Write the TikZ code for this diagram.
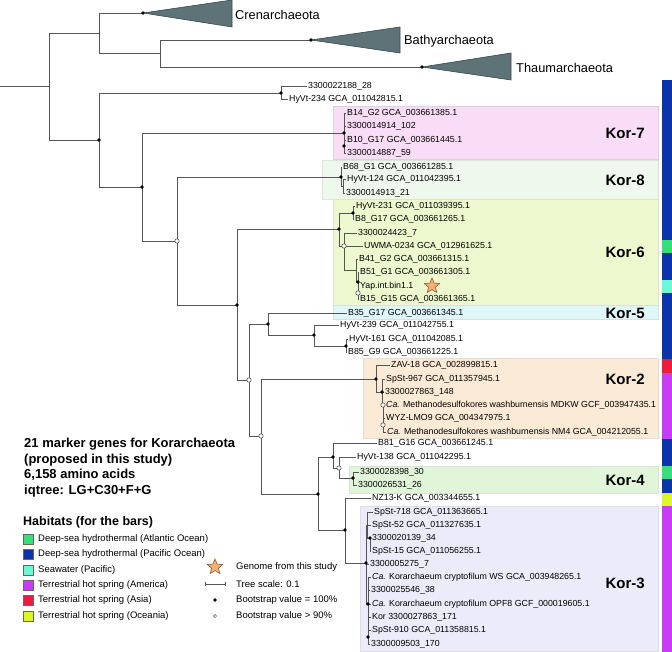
\documentclass[tikz,border=0pt]{standalone}
\usepackage{fontspec}
\setmainfont{Liberation Sans}
\usetikzlibrary{shapes.geometric,calc}
\newcommand\leaffont{\fontsize{8.8}{10}\selectfont}
\newcommand\legfont{\fontsize{9.5}{11}\selectfont}
\newcommand\cladefont{\fontsize{12.8}{14}\selectfont}
\newcommand\korfont{\fontsize{15}{17}\selectfont\bfseries}
\newcommand\titfont{\fontsize{13}{15}\selectfont\bfseries}
\newcommand\habfont{\fontsize{12.5}{14}\selectfont\bfseries}
\definecolor{brc}{HTML}{555555}
\definecolor{tric}{HTML}{5E7378}
\definecolor{trid}{HTML}{3A484B}
\definecolor{kvii}{HTML}{F9DDF6}
\definecolor{kviii}{HTML}{EEF8EC}
\definecolor{kvi}{HTML}{EEF8CE}
\definecolor{kv}{HTML}{DFF7F6}
\definecolor{kii}{HTML}{FBEAD6}
\definecolor{kiv}{HTML}{E1F6D9}
\definecolor{kiii}{HTML}{EBEBFA}
\definecolor{cblue}{HTML}{0B33AA}
\definecolor{catl}{HTML}{35E07A}
\definecolor{csea}{HTML}{6DF9D6}
\definecolor{camer}{HTML}{C93BF5}
\definecolor{casia}{HTML}{EE1C3C}
\definecolor{cocea}{HTML}{DEF52A}
\definecolor{starf}{HTML}{F5B07A}
\definecolor{stard}{HTML}{8B5A2B}
\tikzset{
  br/.style={draw=brc, line width=0.8pt},
  leaf/.style={anchor=west, inner sep=1pt, font=\leaffont, text height=6.4pt, text depth=1.8pt},
  korlab/.style={anchor=east, inner sep=0pt, font=\korfont},
  clab/.style={anchor=west, inner sep=0pt, font=\cladefont},
  tri/.style={fill=tric, draw=trid, line width=0.6pt},
  cbox/.style={line width=0.5pt},
  legt/.style={anchor=west, inner sep=0pt, font=\legfont},
  sq/.style={draw=black!60, line width=0.4pt, minimum size=10pt, inner sep=0pt},
  starn/.style={star, star points=5, star point ratio=2.2, fill=starf, draw=stard, line width=0.6pt, minimum size=16pt, inner sep=0pt},
  bt/.style={anchor=west, inner sep=0pt}
}
\begin{document}
\begin{tikzpicture}[x=1pt,y=-1pt]
\useasboundingbox (0,0) rectangle (672,652);
% clade boxes
\filldraw[cbox, fill=kvii, draw=kvii!80!black!60] (333,106) rectangle (658,159);
\filldraw[cbox, fill=kviii, draw=kviii!80!black!50] (322,160) rectangle (658,199);
\filldraw[cbox, fill=kvi, draw=kvi!80!black!50] (333,199) rectangle (658,305);
\filldraw[cbox, fill=kv, draw=kv!80!black!50] (333,305) rectangle (658,319);
\filldraw[cbox, fill=kii, draw=kii!80!black!50] (363,358) rectangle (658,438);
\filldraw[cbox, fill=kiv, draw=kiv!80!black!50] (349,466) rectangle (658,493);
\filldraw[cbox, fill=kiii, draw=kiii!80!black!50] (360,506) rectangle (658,651);
% habitat bar
\fill[cblue] (662,80) rectangle (672,240);
\fill[catl] (662,240) rectangle (672,253);
\fill[cblue] (662,253) rectangle (672,280);
\fill[csea] (662,280) rectangle (672,293);
\fill[cblue] (662,293) rectangle (672,359);
\fill[casia] (662,359) rectangle (672,373);
\fill[camer] (662,373) rectangle (672,439);
\fill[cblue] (662,439) rectangle (672,466);
\fill[catl] (662,466) rectangle (672,479);
\fill[cblue] (662,479) rectangle (672,493);
\fill[cocea] (662,493) rectangle (672,506);
\fill[camer] (662,506) rectangle (672,652);
% tree coordinates
\coordinate (root0) at (0,86);
\coordinate (r) at (49,86);
\coordinate (o1) at (99,33);
\coordinate (cren) at (143,13);
\coordinate (o2) at (160,53);
\coordinate (bath) at (311,40);
\coordinate (thau) at (422,67);
\coordinate (k) at (99,140);
\coordinate (a1) at (281,93);
\coordinate (k2) at (142,187);
\coordinate (k7) at (344,133);
\coordinate (k7b) at (344,146);
\coordinate (k3n) at (177,241);
\coordinate (k8) at (341,177);
\coordinate (k8b) at (343,186);
\coordinate (k4n) at (237,305);
\coordinate (k6) at (339,229);
\coordinate (k6a) at (353,213);
\coordinate (k6b) at (344,246);
\coordinate (k6c) at (356,270);
\coordinate (k6d) at (358,282);
\coordinate (k6e) at (358,293);
\coordinate (k5n) at (249,380);
\coordinate (k5) at (268,324);
\coordinate (k5b) at (314,335);
\coordinate (k5c) at (346,346);
\coordinate (k24) at (261,436);
\coordinate (k2n) at (376,379);
\coordinate (k2b) at (382,392);
\coordinate (k2c) at (383,405);
\coordinate (k2d) at (383,425);
\coordinate (k34) at (318,494);
\coordinate (k4) at (333,457);
\coordinate (k4b) at (339,468);
\coordinate (k4c) at (353,478);
\coordinate (k3p) at (345,530);
\coordinate (k3) at (366,563);
\coordinate (k3u) at (367,525);
\coordinate (k3v) at (370,538);
\coordinate (k3l) at (368,604);
\coordinate (k3m) at (368,637);
% collapsed clades
\draw[tri] (cren) -- (232,0) -- (232,27) -- cycle;
\draw[tri] (bath) -- (400,27) -- (400,53) -- cycle;
\draw[tri] (thau) -- (511,53) -- (511,80) -- cycle;
\node[clab] (ncren) at (235,15) {Crenarchaeota};
\node[clab] (nbath) at (404,41) {Bathyarchaeota};
\node[clab] (nthau) at (516,68) {Thaumarchaeota};
% leaves
\node[leaf] (l1) at (307,86) {3300022188\_28};
\node[leaf] (l2) at (288,99) {HyVt-234 GCA\_011042815.1};
\node[leaf] (l7a) at (346,113) {B14\_G2 GCA\_003661385.1};
\node[leaf] (l7b) at (346,126) {3300014914\_102};
\node[leaf] (l7c) at (346,140) {B10\_G17 GCA\_003661445.1};
\node[leaf] (l7d) at (346,153) {3300014887\_59};
\node[leaf] (l8a) at (342,167) {B68\_G1 GCA\_003661285.1};
\node[leaf] (l8b) at (346,179) {HyVt-124 GCA\_011042395.1};
\node[leaf] (l8c) at (345,193) {3300014913\_21};
\node[leaf] (l6a) at (355,206) {HyVt-231 GCA\_011039395.1};
\node[leaf] (l6b) at (354,219) {B8\_G17 GCA\_003661265.1};
\node[leaf] (l6c) at (357,233) {3300024423\_7};
\node[leaf] (l6d) at (363,246) {UWMA-0234 GCA\_012961625.1};
\node[leaf] (l6e) at (358,259) {B41\_G2 GCA\_003661315.1};
\node[leaf] (l6f) at (359,272) {B51\_G1 GCA\_003661305.1};
\node[leaf] (l6g) at (359,286) {Yap.int.bin1.1};
\node[leaf] (l6h) at (359,299) {B15\_G15 GCA\_003661365.1};
\node[leaf] (l5a) at (347,313) {B35\_G17 GCA\_003661345.1};
\node[leaf] (l5b) at (339,325) {HyVt-239 GCA\_011042755.1};
\node[leaf] (l5c) at (348,339) {HyVt-161 GCA\_011042085.1};
\node[leaf] (l5d) at (347,352) {B85\_G9 GCA\_003661225.1};
\node[leaf] (l2a) at (390,365) {ZAV-18 GCA\_002899815.1};
\node[leaf] (l2b) at (385,379) {SpSt-967 GCA\_011357945.1};
\node[leaf] (l2c) at (384,392) {3300027863\_148};
\node[leaf] (l2d) at (385,405) {\textit{Ca.} Methanodesulfokores washburnensis MDKW GCF\_003947435.1};
\node[leaf] (l2e) at (385,418) {WYZ-LMO9 GCA\_004347975.1};
\node[leaf] (l2f) at (386,432) {\textit{Ca.} Methanodesulfokores washburnensis NM4 GCA\_004212055.1};
\node[leaf] (l4a) at (377,443) {B81\_G16 GCA\_003661245.1};
\node[leaf] (l4b) at (356,457) {HyVt-138 GCA\_011042295.1};
\node[leaf] (l4c) at (359,472) {3300028398\_30};
\node[leaf] (l4d) at (357,485) {3300026531\_26};
\node[leaf] (l3n) at (371,498) {NZ13-K GCA\_003344655.1};
\node[leaf] (l3a) at (373,512) {SpSt-718 GCA\_011363665.1};
\node[leaf] (l3b) at (371,525) {SpSt-52 GCA\_011327635.1};
\node[leaf] (l3c) at (371,538) {3300020139\_34};
\node[leaf] (l3d) at (371,551) {SpSt-15 GCA\_011056255.1};
\node[leaf] (l3e) at (369,564) {3300005275\_7};
\node[leaf] (l3f) at (371,577) {\textit{Ca.} Korarchaeum cryptofilum WS GCA\_003948265.1};
\node[leaf] (l3g) at (370,590) {3300025546\_38};
\node[leaf] (l3h) at (371,604) {\textit{Ca.} Korarchaeum cryptofilum OPF8 GCF\_000019605.1};
\node[leaf] (l3i) at (371,617) {Kor 3300027863\_171};
\node[leaf] (l3j) at (371,630) {SpSt-910 GCA\_011358815.1};
\node[leaf] (l3k) at (370,644) {3300009503\_170};
% branches
\draw[br] (root0) -- (r);
\draw[br] (r) |- (o1); \draw[br] (r) |- (k);
\draw[br] (o1) |- (cren); \draw[br] (o1) |- (o2);
\draw[br] (o2) |- (bath); \draw[br] (o2) |- (thau);
\draw[br] (k) |- (a1); \draw[br] (k) |- (k2);
\draw[br] (a1) |- (l1.west); \draw[br] (a1) |- (l2.west);
\draw[br] (k2) |- (k7); \draw[br] (k2) |- (k3n);
\draw[br] (k7) |- (l7a.west); \draw[br] (k7) |- (l7b.west); \draw[br] (k7) |- (k7b);
\draw[br] (k7b) |- (l7c.west); \draw[br] (k7b) |- (l7d.west);
\draw[br] (k3n) |- (k8); \draw[br] (k3n) |- (k4n);
\draw[br] (k8) |- (l8a.west); \draw[br] (k8) |- (k8b);
\draw[br] (k8b) |- (l8b.west); \draw[br] (k8b) |- (l8c.west);
\draw[br] (k4n) |- (k6); \draw[br] (k4n) |- (k5n);
\draw[br] (k6) |- (k6a); \draw[br] (k6) |- (k6b);
\draw[br] (k6a) |- (l6a.west); \draw[br] (k6a) |- (l6b.west);
\draw[br] (k6b) |- (l6c.west); \draw[br] (k6b) |- (l6d.west); \draw[br] (k6b) |- (k6c);
\draw[br] (k6c) |- (l6e.west); \draw[br] (k6c) |- (k6d);
\draw[br] (k6d) |- (l6f.west); \draw[br] (k6d) |- (k6e);
\draw[br] (k6e) |- (l6g.west); \draw[br] (k6e) |- (l6h.west);
\draw[br] (k5n) |- (k5); \draw[br] (k5n) |- (k24);
\draw[br] (k5) |- (l5a.west); \draw[br] (k5) |- (k5b);
\draw[br] (k5b) |- (l5b.west); \draw[br] (k5b) |- (k5c);
\draw[br] (k5c) |- (l5c.west); \draw[br] (k5c) |- (l5d.west);
\draw[br] (k24) |- (k2n); \draw[br] (k24) |- (k34);
\draw[br] (k2n) |- (l2a.west); \draw[br] (k2n) |- (k2b);
\draw[br] (k2b) |- (l2b.west); \draw[br] (k2b) |- (l2c.west); \draw[br] (k2b) |- (k2c);
\draw[br] (k2c) |- (l2d.west); \draw[br] (k2c) |- (k2d);
\draw[br] (k2d) |- (l2e.west); \draw[br] (k2d) |- (l2f.west);
\draw[br] (k34) |- (k4); \draw[br] (k34) |- (k3p);
\draw[br] (k4) |- (l4a.west); \draw[br] (k4) |- (k4b);
\draw[br] (k4b) |- (l4b.west); \draw[br] (k4b) |- (k4c);
\draw[br] (k4c) |- (l4c.west); \draw[br] (k4c) |- (l4d.west);
\draw[br] (k3p) |- (l3n.west); \draw[br] (k3p) |- (k3);
\draw[br] (k3) |- (k3u); \draw[br] (k3) |- (l3e.west); \draw[br] (k3) |- (k3l);
\draw[br] (k3u) |- (l3a.west); \draw[br] (k3u) |- (l3b.west); \draw[br] (k3u) |- (k3v);
\draw[br] (k3v) |- (l3c.west); \draw[br] (k3v) |- (l3d.west);
\draw[br] (k3l) |- (l3f.west); \draw[br] (k3l) |- (l3g.west); \draw[br] (k3l) |- (l3h.west); \draw[br] (k3l) |- (k3m);
\draw[br] (k3m) |- (l3i.west); \draw[br] (k3m) |- (l3j.west); \draw[br] (k3m) |- (l3k.west);
% bootstrap symbols
\foreach \c in {cren,bath,thau,k,a1,k7,k7b,k2,k8,k6,k6a,k6d,k5,k5b,k5c,k4n,k2n,k2b,k34,k4,k4c,k3p,k3,k3v,k3l,k3m}
  \fill[black] (\c) circle (1.8);
\foreach \c in {k3n,k6b,k6e,k5n,k24,k2c,k2d,k4b}
  \filldraw[fill=white, draw=brc, line width=0.6pt] (\c) circle (2.2);
\node[starn] (tstar) at (432,286) {};
% clade labels
\node[korlab] (K7) at (645,133) {Kor-7};
\node[korlab] (K8) at (645,180) {Kor-8};
\node[korlab] (K6) at (645,252) {Kor-6};
\node[korlab] (K5) at (645,313) {Kor-5};
\node[korlab] (K2) at (645,379) {Kor-2};
\node[korlab] (K4) at (645,480) {Kor-4};
\node[korlab] (K3) at (645,583) {Kor-3};
% title block
\node[bt, font=\titfont] (t1) at (24,444) {21 marker genes for Korarchaeota};
\node[bt, font=\titfont] (t2) at (24,460) {(proposed in this study)};
\node[bt, font=\titfont] (t3) at (24,475) {6,158 amino acids};
\node[bt, font=\titfont] (t4) at (24,491) {iqtree: LG+C30+F+G};
% habitat legend
\node[bt, font=\habfont] (hab) at (23,522) {Habitats (for the bars)};
\node[sq, fill=catl] (s1) at (28,539) {};
\node[sq, fill=cblue] (s2) at (28,554) {};
\node[sq, fill=csea] (s3) at (28,570) {};
\node[sq, fill=camer] (s4) at (28,585) {};
\node[sq, fill=casia] (s5) at (28,600) {};
\node[sq, fill=cocea] (s6) at (28,616) {};
\node[legt] (h1) at (38,539) {Deep-sea hydrothermal (Atlantic Ocean)};
\node[legt] (h2) at (38,554) {Deep-sea hydrothermal (Pacific Ocean)};
\node[legt] (h3) at (38,570) {Seawater (Pacific)};
\node[legt] (h4) at (38,585) {Terrestrial hot spring (America)};
\node[legt] (h5) at (38,600) {Terrestrial hot spring (Asia)};
\node[legt] (h6) at (38,616) {Terrestrial hot spring (Oceania)};
% symbol legend
\node[starn] (lstar) at (215,567) {};
\coordinate (sb1) at (205,584);
\coordinate (sb2) at (225,584);
\draw[br, line width=0.7pt] (sb1) -- (sb2);
\draw[br, line width=0.7pt] ($(sb1)+(0,-2)$) -- ($(sb1)+(0,2)$);
\draw[br, line width=0.7pt] ($(sb2)+(0,-2)$) -- ($(sb2)+(0,2)$);
\fill[black] (215,600) circle (1.8);
\filldraw[fill=white, draw=brc, line width=0.5pt] (215,616) circle (1.6);
\node[legt] (g1) at (236,567) {Genome from this study};
\node[legt] (g2) at (236,584) {Tree scale: 0.1};
\node[legt] (g3) at (236,600) {Bootstrap value = 100\%};
\node[legt] (g4) at (236,616) {Bootstrap value > 90\%};
\end{tikzpicture}
\end{document}
